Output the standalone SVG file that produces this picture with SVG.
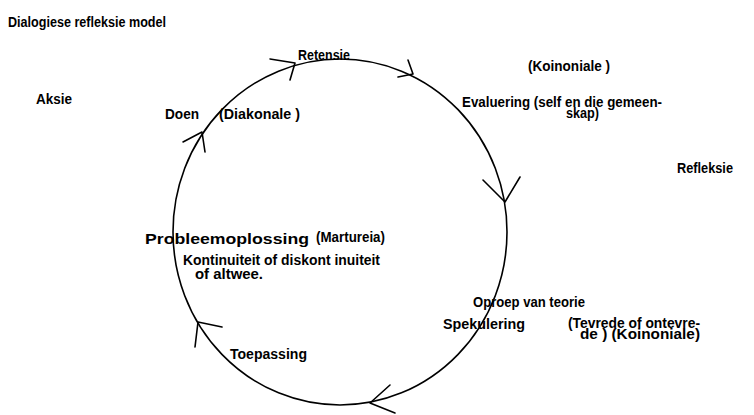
<svg xmlns="http://www.w3.org/2000/svg" width="754" height="415" viewBox="0 0 754 415">
<style>
text{font-family:"Liberation Sans",Arial,sans-serif;font-weight:bold;font-size:14px;fill:#000}
.big{font-size:15px}
.ln{fill:none;stroke:#000;stroke-width:1.6;stroke-linecap:round;stroke-linejoin:round}
</style>
<rect width="754" height="415" fill="#fff"/>
<g id="title"><text x="8" y="27" textLength="158" lengthAdjust="spacingAndGlyphs">Dialogiese refleksie model</text></g>
<g id="connectors">
<ellipse class="ln" cx="340" cy="232" rx="167" ry="173"/>
<path class="ln" d="M183 142 L202 132 L205 152"/>
<path class="ln" d="M270 59 L295 63 L290 80"/>
<path class="ln" d="M408 60 L413 74 L398 77"/>
<path class="ln" d="M483 180 L505 202 L520 177"/>
<path class="ln" d="M390 385 L370 403 L395 413"/>
<path class="ln" d="M222 327 L198 322 L195 347"/>
</g>
<g id="aksie"><text x="36" y="104" textLength="36" lengthAdjust="spacingAndGlyphs">Aksie</text></g>
<g id="doen"><text x="165" y="119" textLength="34" lengthAdjust="spacingAndGlyphs">Doen</text><text x="219" y="119" textLength="81" lengthAdjust="spacingAndGlyphs">(Diakonale )</text></g>
<g id="retensie"><text x="298" y="60" textLength="52" lengthAdjust="spacingAndGlyphs">Retensie</text></g>
<g id="koinoniale"><text x="528" y="71" textLength="82" lengthAdjust="spacingAndGlyphs">(Koinoniale )</text></g>
<g id="evaluering"><text x="462" y="107" textLength="200" lengthAdjust="spacingAndGlyphs">Evaluering (self en die gemeen-</text><text x="566" y="118" textLength="33" lengthAdjust="spacingAndGlyphs">skap)</text></g>
<g id="refleksie"><text x="677" y="173" textLength="56" lengthAdjust="spacingAndGlyphs">Refleksie</text></g>
<g id="probleemoplossing"><text class="big" x="145" y="244" textLength="164" lengthAdjust="spacingAndGlyphs">Probleemoplossing</text><text x="316" y="242" textLength="69" lengthAdjust="spacingAndGlyphs">(Martureia)</text><text x="183" y="265" textLength="197" lengthAdjust="spacingAndGlyphs">Kontinuiteit of diskont inuiteit</text><text x="195" y="279" textLength="68" lengthAdjust="spacingAndGlyphs">of altwee.</text></g>
<g id="oproep"><text x="473" y="307" textLength="112" lengthAdjust="spacingAndGlyphs">Oproep van  teorie</text></g>
<g id="spekulering"><text x="443" y="329" textLength="82" lengthAdjust="spacingAndGlyphs">Spekulering</text><text x="568" y="328" textLength="132" lengthAdjust="spacingAndGlyphs">(Tevrede of ontevre-</text><text x="580" y="339" textLength="120" lengthAdjust="spacingAndGlyphs">de )  (Koinoniale)</text></g>
<g id="toepassing"><text x="230" y="359" textLength="77" lengthAdjust="spacingAndGlyphs">Toepassing</text></g>
</svg>
